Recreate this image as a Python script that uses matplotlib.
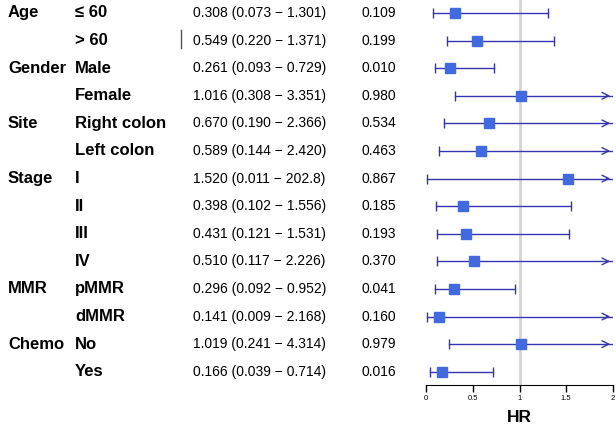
import matplotlib.pyplot as plt
from matplotlib.transforms import blended_transform_factory

plt.rcParams['font.family'] = ['Liberation Sans', 'DejaVu Sans']

# data
groups = ["Age", "", "Gender", "", "Site", "", "Stage", "", "", "", "MMR", "", "Chemo", ""]
subgroups = ["≤ 60", "> 60", "Male", "Female", "Right colon", "Left colon",
             "I", "II", "III", "IV", "pMMR", "dMMR", "No", "Yes"]
hr = [0.308, 0.549, 0.261, 1.016, 0.670, 0.589, 1.520, 0.398, 0.431, 0.510,
      0.296, 0.141, 1.019, 0.166]
lower = [0.073, 0.220, 0.093, 0.308, 0.190, 0.144, 0.011, 0.102, 0.121, 0.117,
         0.092, 0.009, 0.241, 0.039]
upper = [1.301, 1.371, 0.729, 3.351, 2.366, 2.420, 202.8, 1.556, 1.531, 2.226,
         0.952, 2.168, 4.314, 0.714]
upper_txt = ["1.301", "1.371", "0.729", "3.351", "2.366", "2.420", "202.8", "1.556",
             "1.531", "2.226", "0.952", "2.168", "4.314", "0.714"]
pvals = ["0.109", "0.199", "0.010", "0.980", "0.534", "0.463", "0.867", "0.185",
         "0.193", "0.370", "0.041", "0.160", "0.979", "0.016"]
xticks = [0, 0.5, 1, 1.5, 2]

line_col = "#3535b0"
box_col = "#4169e1"

fig = plt.figure(figsize=(6.16, 4.24), dpi=100)
ax = fig.add_axes([426 / 616, 39 / 424, 187 / 616, 385 / 424])
ax.set_xlim(0, 2)
ax.set_ylim(13.48, -0.47)

ax.axvline(1, color="#d4d4d4", lw=2, zorder=0)

for i in range(len(hr)):
    hi = min(upper[i], 2)
    ax.plot([lower[i], hi], [i, i], color=line_col, lw=1)
    ax.plot(lower[i], i, marker="|", color=line_col, ms=7, mew=1)
    if upper[i] > 2:
        ax.annotate("", xy=(2, i), xytext=(1.9, i),
                    arrowprops=dict(arrowstyle="->", color=line_col, lw=1,
                                    mutation_scale=12))
    else:
        ax.plot(hi, i, marker="|", color=line_col, ms=7, mew=1)
    ax.plot(hr[i], i, marker="s", color=box_col, ms=7, zorder=3)

for s in ["top", "right", "left"]:
    ax.spines[s].set_visible(False)
ax.set_yticks([])
ax.set_xticks(xticks)
ax.set_xticklabels(["0", "0.5", "1", "1.5", "2"], fontsize=5.5)
ax.tick_params(axis="x", length=5, width=1, pad=2)
ax.set_xlabel("HR", fontsize=12.5, fontweight="bold", labelpad=6)

trans = blended_transform_factory(fig.transFigure, ax.transData)
for i in range(len(hr)):
    if groups[i]:
        fig.text(8 / 616, i, groups[i], transform=trans, fontsize=12,
                 fontweight="bold", va="center")
    fig.text(75 / 616, i, subgroups[i], transform=trans, fontsize=12,
             fontweight="bold", va="center")
    fig.text(193 / 616, i, "%.3f (%.3f − %s)" % (hr[i], lower[i], upper_txt[i]),
             transform=trans, fontsize=10, va="center")
    fig.text(361 / 616, i, pvals[i], transform=trans, fontsize=10, va="center")

# small stray vertical mark next to the second row
fig.add_artist(plt.Line2D([181 / 616, 181 / 616], [1 - 30 / 424, 1 - 48 / 424],
                          color="#555555", lw=1))

plt.savefig("out.png", dpi=100)
